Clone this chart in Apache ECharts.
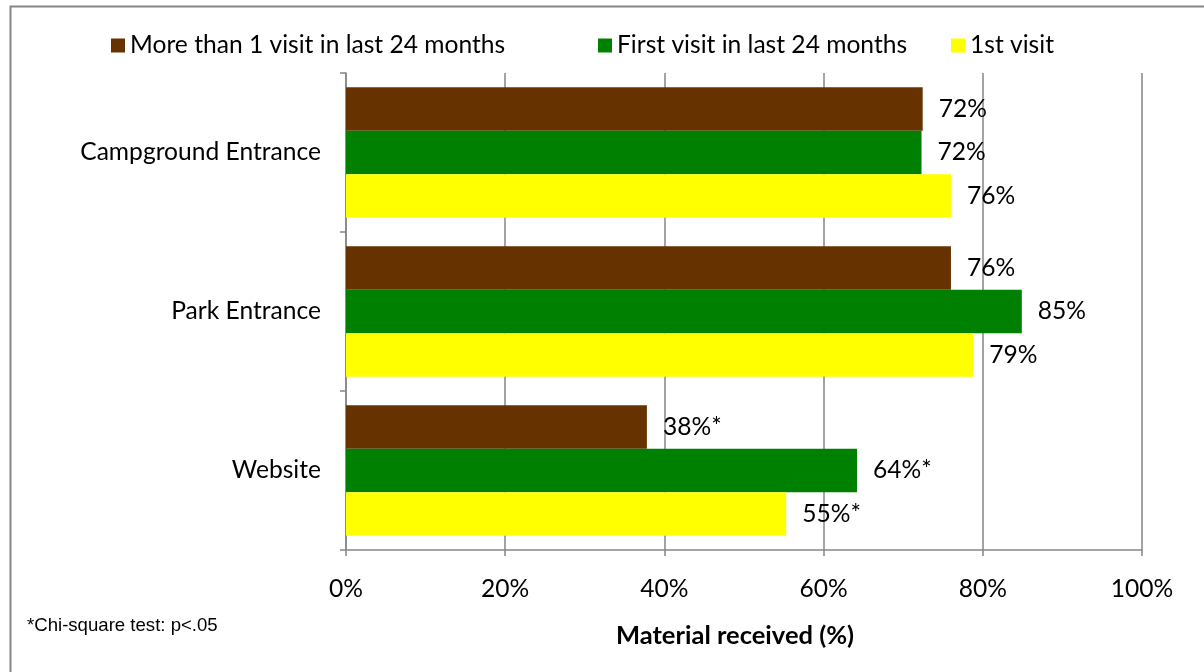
<!DOCTYPE html>
<html><head><meta charset="utf-8">
<script src="https://cdn.jsdelivr.net/npm/echarts@6/dist/echarts.min.js"></script>
<style>html,body{margin:0;padding:0;background:#fff}#c{width:1204px;height:672px}</style>
</head><body><div id="c"></div>
<script>
const categories = ['Campground Entrance', 'Park Entrance', 'Website'];
const significant = [false, false, true];
const seriesNames = ['More than 1 visit in last 24 months', 'First visit in last 24 months', '1st visit'];
const moreThanOne = [72.45, 76.0, 37.8];
const firstVisit24 = [72.3, 84.9, 64.2];
const firstVisit = [76.0, 78.8, 55.3];
const xTicks = [0, 20, 40, 60, 80, 100];
const colors = ['#663300', '#008000', '#FFFF00'];
const FONT = 'Lato';
const FS = 24.6;

const chart = echarts.init(document.getElementById('c'));
const labelCfg = {
  show: true, position: 'right', distance: 16,
  color: '#000', fontFamily: FONT, fontSize: FS,
  formatter: p => Math.round(p.value) + '%' + (significant[p.dataIndex] ? '*' : '')
};
const mk = (name, data, i) => ({
  name, type: 'bar', data, barGap: '0%', barCategoryGap: '17.8%',
  itemStyle: { color: colors[i] }, label: labelCfg
});
const legendBase = { top: 28, itemWidth: 14, itemHeight: 14, icon: 'rect',
  textStyle: { fontFamily: FONT, fontSize: FS, color: '#000' }, itemGap: 6 };
chart.setOption({
  animation: false,
  grid: { left: 346, right: 62, top: 73, bottom: 122 },
  legend: [
    Object.assign({}, legendBase, { left: 106, data: [seriesNames[0]] }),
    Object.assign({}, legendBase, { left: 593, data: [seriesNames[1]] }),
    Object.assign({}, legendBase, { left: 946, data: [seriesNames[2]] })
  ],
  xAxis: {
    type: 'value', min: 0, max: 100, interval: 20,
    axisLine: { show: true, lineStyle: { color: '#868686', width: 1.5 } },
    axisTick: { show: true, length: 6, lineStyle: { color: '#868686', width: 1.5 } },
    splitLine: { show: true, lineStyle: { color: '#868686', width: 1.5 } },
    axisLabel: { margin: 27, color: '#000', fontFamily: FONT, fontSize: FS,
      formatter: v => xTicks.includes(v) ? v + '%' : '' }
  },
  yAxis: {
    type: 'category', data: categories, inverse: true,
    axisLine: { show: true, lineStyle: { color: '#868686', width: 1.5 } },
    axisTick: { show: true, length: 6, inside: false, lineStyle: { color: '#868686', width: 1.5 } },
    axisLabel: { margin: 25, color: '#000', fontFamily: FONT, fontSize: FS }
  },
  series: [mk(seriesNames[0], moreThanOne, 0), mk(seriesNames[1], firstVisit24, 1), mk(seriesNames[2], firstVisit, 2)],
  graphic: [
    { type: 'rect', left: 8, top: 4, shape: { width: 1220, height: 690 }, silent: true,
      style: { fill: 'none', stroke: '#868686', lineWidth: 2 } },
    { type: 'text', x: 735, y: 636, style: { text: 'Material received (%)', align: 'center', verticalAlign: 'middle', fontFamily: FONT, fontSize: 25.5, fontWeight: 'bold', fill: '#000' } },
    { type: 'text', x: 27, y: 626, style: { text: '*Chi-square test: p<.05', verticalAlign: 'middle', fontFamily: 'Liberation Sans', fontSize: 18.6, fill: '#000' } }
  ]
});
</script></body></html>
